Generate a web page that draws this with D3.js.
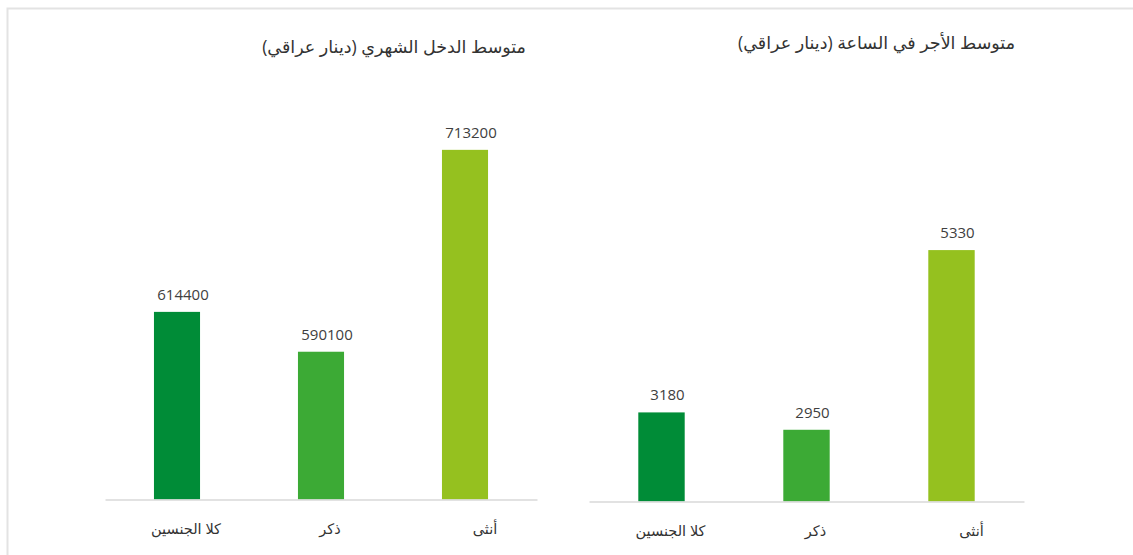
<!DOCTYPE html>
<html>
<head>
<meta charset="utf-8">
<script src="https://cdn.jsdelivr.net/npm/d3@7"></script>
<style>
  html, body { margin: 0; padding: 0; background: #ffffff; }
  svg { display: block; font-family: "Open Sans", "Noto Sans", "DejaVu Sans", sans-serif; }
</style>
</head>
<body>
<svg id="chart" width="1133" height="555"></svg>
<script>
// ---- data ----
const categories = ["كلا الجنسين", "ذكر", "أنثى"];
const monthlyIncome = [614400, 590100, 713200];
const hourlyWage = [3180, 2950, 5330];
const titles = ["متوسط الدخل الشهري (دينار عراقي)", "متوسط الأجر في الساعة (دينار عراقي)"];
const colors = ["#008c37", "#3caa35", "#95c11f"];

const svg = d3.select("#chart");

// outer frame
svg.append("rect")
  .attr("x", 7.5).attr("y", 8.5)
  .attr("width", 1140).attr("height", 560)
  .attr("fill", "none").attr("stroke", "#e3e3e3").attr("stroke-width", 2);

const panels = [
  { values: monthlyIncome, title: titles[0], x0: 105, x1: 537,
    domain: [500000, 750000], yRange: [499.5, 89.5], titleX: 526, titleY: 53, labelY: 534 },
  { values: hourlyWage, title: titles[1], x0: 589, x1: 1024,
    domain: [2000, 6000], yRange: [501.5, 199.5], titleX: 1015, titleY: 49, labelY: 536 }
];

panels.forEach(p => {
  const g = svg.append("g");
  const x = d3.scaleBand().domain(categories).range([p.x0, p.x1]).paddingInner(0.68).paddingOuter(0.34);
  const y = d3.scaleLinear().domain(p.domain).range(p.yRange);

  // title
  g.append("text")
    .attr("x", p.titleX).attr("y", p.titleY)
    .attr("text-anchor", "end")
    .attr("font-size", 17.5).attr("fill", "#333")
    .text(p.title);

  // bars
  g.selectAll("rect.bar").data(p.values).join("rect")
    .attr("class", "bar")
    .attr("x", (d, i) => x(categories[i]))
    .attr("width", x.bandwidth())
    .attr("y", d => y(d))
    .attr("height", d => y(p.domain[0]) - y(d))
    .attr("fill", (d, i) => colors[i]);

  // value labels
  g.selectAll("text.val").data(p.values).join("text")
    .attr("class", "val")
    .attr("x", (d, i) => x(categories[i]) + x.bandwidth() / 2 + 6)
    .attr("y", d => y(d) - 12)
    .attr("text-anchor", "middle")
    .attr("font-size", 15).attr("fill", "#404040")
    .text(d => d);

  // baseline axis
  const axis = d3.axisBottom(x).tickSize(0).tickPadding(0);
  const ax = g.append("g").attr("transform", `translate(0,${y(p.domain[0])})`).call(axis);
  ax.select(".domain").attr("stroke", "#d9d9d9").attr("stroke-width", 1.5);
  ax.selectAll(".tick text")
    .attr("transform", (d, i) => `translate(${i === 2 ? 20 : 9},0)`)
    .attr("y", p.labelY - y(p.domain[0]) - 5)
    .attr("dy", "0.35em")
    .attr("font-size", 14.5).attr("fill", "#333")
    .attr("font-family", "\"Open Sans\", \"Noto Sans\", \"DejaVu Sans\", sans-serif");
});
</script>
</body>
</html>
